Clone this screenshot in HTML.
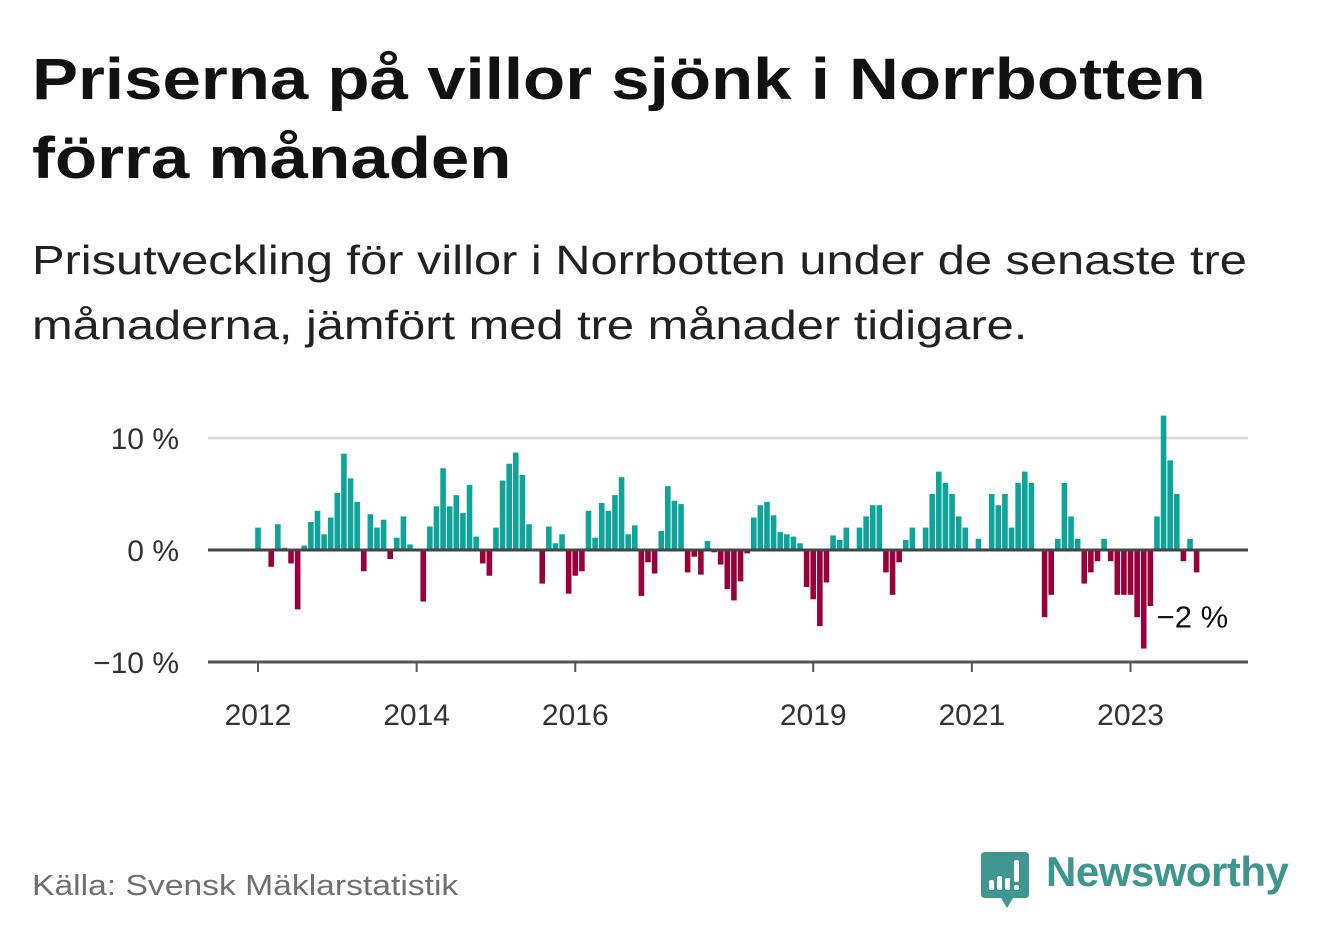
<!DOCTYPE html>
<html><head><meta charset="utf-8">
<style>
html,body{margin:0;padding:0;background:#fff;width:1322px;height:939px;overflow:hidden;font-family:"Liberation Sans",sans-serif;}
#title{position:absolute;left:32px;top:40px;font-size:58px;font-weight:bold;line-height:79px;color:#111;margin:0;transform:scaleX(1.19);transform-origin:left top;white-space:nowrap;}
#subtitle{position:absolute;left:32px;top:228px;font-size:41px;line-height:65px;color:#222;margin:0;transform:scaleX(1.19);transform-origin:left top;white-space:nowrap;}
#source{position:absolute;left:32px;top:870px;font-size:29px;color:#707070;transform:scaleX(1.16);transform-origin:left top;white-space:nowrap;}
#logo{position:absolute;left:981px;top:850px;}
#logo-text{position:absolute;left:1046px;top:848px;font-size:42px;font-weight:bold;color:#3f9690;letter-spacing:-0.5px;}
svg{position:absolute;left:0;top:0;}
</style></head><body>
<h1 id="title">Priserna på villor sjönk i Norrbotten<br>förra månaden</h1>
<p id="subtitle">Prisutveckling för villor i Norrbotten under de senaste tre<br>månaderna, jämfört med tre månader tidigare.</p>
<svg id="chart" width="1322" height="939"></svg>
<div id="source">Källa: Svensk Mäklarstatistik</div>
<svg id="logo" width="50" height="60" viewBox="0 0 50 60">
<path d="M4 2 H44 Q48 2 48 6 V44 Q48 48 44 48 H32 L26 58 L20 48 H4 Q0 48 0 44 V6 Q0 2 4 2 Z" fill="#3f9690"/>
<rect x="8" y="30" width="5" height="10" rx="2" fill="#fff"/>
<rect x="16" y="26" width="5" height="14" rx="2" fill="#fff"/>
<rect x="24" y="28" width="5" height="12" rx="2" fill="#fff"/>
<rect x="33" y="10" width="5" height="22" rx="2" fill="#fff"/>
<rect x="33" y="35" width="5" height="5" rx="2" fill="#fff"/>
</svg>
<div id="logo-text">Newsworthy</div>
<script>
const values = [2.0,0,-1.5,2.3,0.2,-1.2,-5.3,0.4,2.5,3.5,1.4,2.9,5.1,8.6,6.4,4.3,-1.9,3.2,2.0,2.7,-0.8,1.1,3.0,0.5,0,-4.6,2.1,3.9,7.3,3.9,4.9,3.3,5.8,1.2,-1.2,-2.3,2.0,6.2,7.7,8.7,6.7,2.3,0,-3.0,2.1,0.6,1.4,-3.9,-2.3,-1.9,3.5,1.1,4.2,3.5,4.9,6.5,1.4,2.2,-4.1,-1.1,-2.1,1.7,5.7,4.4,4.1,-2.0,-0.6,-2.2,0.8,-0.2,-1.3,-3.5,-4.5,-2.8,-0.3,2.9,4.0,4.3,3.1,1.6,1.4,1.2,0.6,-3.3,-4.4,-6.8,-2.9,1.3,0.9,2.0,0,2.0,3.0,4.0,4.0,-2.0,-4.0,-1.1,0.9,2.0,0,2.0,5.0,7.0,6.0,5.0,3.0,2.0,0,1.0,0,5.0,4.0,5.0,2.0,6.0,7.0,6.0,0,-6.0,-4.0,1.0,6.0,3.0,1.0,-3.0,-2.0,-1.0,1.0,-1.0,-4.0,-4.0,-4.0,-6.0,-8.8,-5.0,3.0,12.0,8.0,5.0,-1.0,1.0,-2.0];
const startYear = 2012;
const yTicks = [10,0,-10];
const yTickLabels = ["10 %","0 %","\u221210 %"];
const xTickYears = [2012,2014,2016,2019,2021,2023];
const lastLabel = "\u22122 %";

const NS="http://www.w3.org/2000/svg";
const svg=document.getElementById('chart');
const x0=208,x1=1248;
function xScale(m){return 258+m*6.61;}
function yearX(y){return xScale((y-startYear)*12);}
function yScale(v){return 550-v*11.2;}
function mk(tag,attrs){const e=document.createElementNS(NS,tag);for(const k in attrs)e.setAttribute(k,attrs[k]);svg.appendChild(e);return e;}

yTicks.forEach((t,i)=>{
  if(t!==0&&t!==-10){const g=mk('line',{x1:x0,x2:x1,y1:yScale(t),y2:yScale(t),stroke:'#dcdcdc','stroke-width':3});
  
  }
  const tx=mk('text',{x:179,y:yScale(t)+11,'text-anchor':'end','font-size':30,fill:'#333','font-family':'Liberation Sans, sans-serif'});
  tx.textContent=yTickLabels[i];
  
  
});
const ax=mk('line',{x1:x0,x2:x1,y1:yScale(-10),y2:yScale(-10),stroke:'#555','stroke-width':3});


xTickYears.forEach(y=>{
  const X=yearX(y);
  const tk=mk('line',{x1:X,x2:X,y1:yScale(-10),y2:yScale(-10)+10,stroke:'#555','stroke-width':2});
  
  
  const tx=mk('text',{x:X,y:725,'text-anchor':'middle','font-size':30,fill:'#333','font-family':'Liberation Sans, sans-serif'});
  tx.textContent=y;
  
  
});
values.forEach((v,i)=>{
  if(v===0)return;
  const X=xScale(i);
  const y=Math.min(yScale(v),yScale(0)),h=Math.abs(yScale(v)-yScale(0));
  const r=mk('rect',{x:X-2.8,y:y,width:5.6,height:h,fill:v>0?'#0fa39a':'#99003a'});
  
  
});
const zl=mk('line',{x1:x0,x2:x1,y1:yScale(0),y2:yScale(0),stroke:'#444','stroke-width':3});


const li=values.length-1;
const lbl=mk('text',{x:xScale(li)-40,y:yScale(values[li])+55,'font-size':31,fill:'#111','font-family':'Liberation Sans, sans-serif'});
lbl.textContent=lastLabel;


</script>
</body></html>
